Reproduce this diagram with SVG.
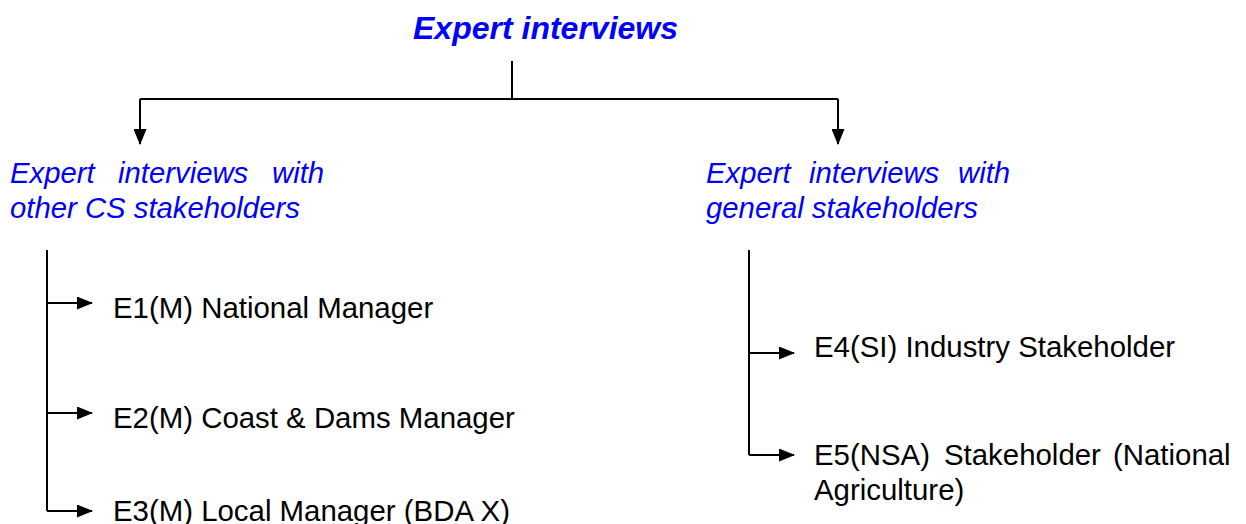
<svg xmlns="http://www.w3.org/2000/svg" width="1246" height="524" viewBox="0 0 1246 524">
  <style>
    .title { font-family: "Liberation Sans", Arial, sans-serif; font-size: 32px; font-weight: bold; font-style: italic; fill: #0000ff; }
    .sub { font-family: "Liberation Sans", Arial, sans-serif; font-size: 29.3px; font-style: italic; fill: #0000ff; }
    .item { font-family: "Liberation Sans", Arial, sans-serif; font-size: 29.4px; fill: #000000; }
    .link { stroke: #000000; stroke-width: 2; fill: none; }
  </style>
  <defs>
    <marker id="arrow" viewBox="0 0 16 13" refX="15" refY="6.5" markerWidth="16" markerHeight="13" markerUnits="userSpaceOnUse" orient="auto">
      <path d="M0,0 L16,6.5 L0,13 Z" fill="#000000"/>
    </marker>
  </defs>

  <rect width="1246" height="524" fill="#ffffff"/>

  <!-- connectors -->
  <g id="connectors">
    <path class="link" d="M512,61 V99"/>
    <path class="link" d="M140,99 H838"/>
    <path class="link" d="M140,99 V144" marker-end="url(#arrow)"/>
    <path class="link" d="M838,99 V144" marker-end="url(#arrow)"/>

    <path class="link" d="M47,250 V511"/>
    <path class="link" d="M47,303 H92" marker-end="url(#arrow)"/>
    <path class="link" d="M47,413 H92" marker-end="url(#arrow)"/>
    <path class="link" d="M47,511 H92" marker-end="url(#arrow)"/>

    <path class="link" d="M749,250 V455"/>
    <path class="link" d="M749,353 H794" marker-end="url(#arrow)"/>
    <path class="link" d="M749,455 H794" marker-end="url(#arrow)"/>
  </g>

  <g id="root">
    <text class="title" x="413" y="39">Expert interviews</text>
  </g>

  <g id="group-cs">
    <text class="sub" y="183"><tspan x="10">Expert</tspan><tspan x="118">interviews</tspan><tspan x="272">with</tspan></text>
    <text class="sub" x="10" y="218">other CS stakeholders</text>
  </g>

  <g id="group-general">
    <text class="sub" y="183"><tspan x="706">Expert</tspan><tspan x="809">interviews</tspan><tspan x="958">with</tspan></text>
    <text class="sub" x="706" y="218">general stakeholders</text>
  </g>

  <g id="e1"><text class="item" x="113" y="318">E1(M) National Manager</text></g>
  <g id="e2"><text class="item" x="113" y="428">E2(M) Coast &amp; Dams Manager</text></g>
  <g id="e3"><text class="item" x="113" y="521">E3(M) Local Manager (BDA X)</text></g>

  <g id="e4"><text class="item" x="814" y="357">E4(SI) Industry Stakeholder</text></g>
  <g id="e5">
    <text class="item" y="465"><tspan x="814">E5(NSA)</tspan><tspan x="944">Stakeholder</tspan><tspan x="1113">(National</tspan></text>
    <text class="item" x="814" y="500">Agriculture)</text>
  </g>
</svg>
